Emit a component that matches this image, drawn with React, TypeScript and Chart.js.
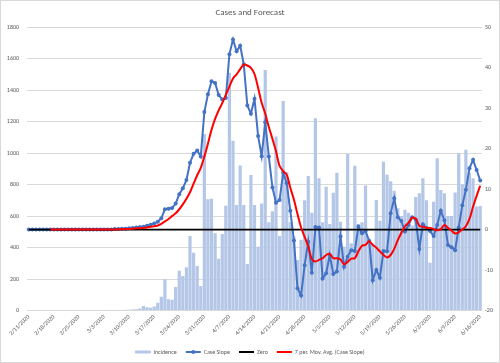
import React, { useEffect, useRef } from "react";
import { Chart, registerables } from "chart.js";

Chart.register(...registerables);

// ---- Data -------------------------------------------------------------
const FIRST_DAY = { year: 2020, month: 2, day: 11 }; // 2/11/2020
const DAY_COUNT = 127; // 2/11/2020 .. 6/16/2020
const TICK_EVERY = 7;

const categories: string[] = [];
for (let i = 0; i < DAY_COUNT; i++) {
  const d = new Date(FIRST_DAY.year, FIRST_DAY.month - 1, FIRST_DAY.day + i);
  categories.push(`${d.getMonth() + 1}/${d.getDate()}/${d.getFullYear()}`);
}

const incidence: number[] = [
  0, 0, 0, 0, 0, 0, 0, 0, 0, 0,
  0, 0, 0, 0, 0, 0, 0, 0, 0, 0,
  3, 0, 1, 1, 3, 1, 2, 5, 4, 6,
  8, 12, 28, 20, 18, 25, 50, 88, 198, 71,
  68, 150, 253, 219, 274, 473, 367, 282, 155, 1120,
  706, 710, 490, 329, 486, 665, 1510, 1078, 670, 920,
  670, 295, 860, 670, 405, 680, 1527, 560, 630, 1104,
  473, 1330, 880, 560, 470, 320, 450, 700, 854, 620,
  1220, 839, 560, 786, 549, 748, 875, 564, 405, 994,
  427, 919, 549, 560, 793, 427, 427, 702, 570, 945,
  862, 820, 760, 650, 600, 640, 620, 540, 720, 745,
  840, 700, 303, 690, 966, 765, 745, 600, 600, 750,
  998, 800, 1020, 875, 840, 660, 663,
];

const caseSlope: number[] = [
  0, 0, 0, 0, 0, 0, 0, 0, 0, 0,
  0, 0, 0, 0, 0, 0, 0, 0, 0, 0,
  0, 0, 0, 0, 0.1, 0.1, 0.2, 0.2, 0.3, 0.4,
  0.5, 0.6, 0.7, 0.9, 1.2, 1.5, 1.9, 2.8, 5.0, 5.1,
  5.3, 6.4, 8.7, 10.2, 12.2, 16.5, 18.7, 19.5, 18.0, 29.0,
  33.4, 36.6, 36.2, 33.2, 32.1, 32.5, 43.3, 46.9, 44.0, 45.4,
  40.8, 30.6, 28.6, 32.3, 23.1, 18.1, 26.5, 18.0, 10.4, 6.6,
  7.3, 14.0, 11.4, 4.6, -2.7, -14.5, -16.3, -8.8, -3.0, -10.7,
  0.6, 0.5, -12.1, -10.8, -6.3, -11.0, -10.4, -1.7, -9.2, -6.7,
  -5.1, -5.3, 0.7, -0.9, -0.4, -2.8, -12.5, -10.0, -11.9, -5.3,
  -5.4, 4.0, 7.7, 3.0, 2.1, -0.5, 1.1, 3.0, 2.5, -4.8,
  1.3, 0.4, -0.4, -1.6, 1.1, 4.6, 2.3, -3.8, -4.4, -5.1,
  0.5, 6.0, 9.8, 15.1, 17.2, 14.7, 12.1,
];

const movingAvg: (number | null)[] = [
  null, null, null, null, null, null, 0, 0, 0, 0,
  0, 0, 0, 0, 0, 0, 0, 0, 0, 0,
  0, 0, 0, 0, 0, 0, 0.1, 0.1, 0.1, 0.2,
  0.3, 0.3, 0.4, 0.5, 0.7, 0.8, 1.0, 1.4, 2.0, 2.6,
  3.3, 4.0, 5.0, 6.2, 7.6, 9.2, 11.3, 13.4, 15.2, 18.0,
  21.2, 24.6, 27.3, 29.4, 31.2, 33.3, 35.3, 37.3, 38.3, 39.6,
  40.7, 40.5, 39.9, 38.4, 35.0, 31.3, 28.6, 25.3, 22.4, 19.3,
  15.7, 14.4, 13.5, 10.3, 7.4, 3.8, 0.5, -1.8, -4.2, -7.3,
  -7.9, -7.5, -7.1, -6.3, -6.0, -7.1, -7.1, -7.4, -8.6, -8.0,
  -7.2, -7.1, -5.4, -4.0, -3.8, -2.9, -3.8, -4.5, -5.4, -6.3,
  -6.9, -6.3, -4.8, -2.6, -0.8, 0.8, 1.7, 2.9, 2.7, 0.9,
  0.7, 0.4, 0.4, 0.1, -0.2, 0.1, 1.1, 0.4, -0.3, -1.0,
  -0.7, 0.0, 0.8, 2.6, 5.6, 8.3, 10.8,
];

const zeroLine: number[] = categories.map(() => 0);

const LEFT_TICKS = { min: 0, max: 1800, step: 200 };
const RIGHT_TICKS = { min: -20, max: 50, step: 10 };

// ---- Styles -----------------------------------------------------------
const FONT = "Carlito, Calibri, 'Liberation Sans', Arial, sans-serif";
const TEXT = "#595959";
const GRID = "#D9D9D9";
const BAR = "#B4C7E7";
const BLUE = "#4472C4";
const RED = "#FF0000";
const BLACK = "#000000";

const legendMarker = {
  id: "legendMarker",
  afterDraw(chart: any) {
    const legend = chart.legend;
    if (!legend || !legend.legendHitBoxes || !legend.legendItems) return;
    legend.legendItems.forEach((item: any, i: number) => {
      if (item.datasetIndex !== 1) return;
      const hb = legend.legendHitBoxes[i];
      if (!hb) return;
      const ctx = chart.ctx;
      const boxW = legend.options.labels.boxWidth;
      const fs = legend.options.labels.font.size;
      ctx.save();
      ctx.fillStyle = BLUE;
      ctx.beginPath();
      ctx.arc(hb.left + boxW / 2, hb.top + fs / 2, 2, 0, Math.PI * 2);
      ctx.fill();
      ctx.restore();
    });
  },
};

export default function App() {
  const ref = useRef<HTMLCanvasElement | null>(null);

  useEffect(() => {
    if (!ref.current) return;
    const chart = new Chart(ref.current, {
      type: "bar",
      data: {
        labels: categories,
        datasets: [
          {
            type: "bar",
            label: "Incidence",
            data: incidence,
            backgroundColor: BAR,
            borderWidth: 0,
            yAxisID: "y",
            order: 4,
            categoryPercentage: 1,
            barPercentage: 0.9,
          } as any,
          {
            type: "line",
            label: "Case Slope",
            data: caseSlope,
            borderColor: BLUE,
            backgroundColor: BLUE,
            borderWidth: 2,
            pointRadius: 2,
            pointBorderWidth: 0,
            pointBackgroundColor: BLUE,
            tension: 0,
            yAxisID: "y1",
            order: 3,
          } as any,
          {
            type: "line",
            label: "Zero",
            data: zeroLine,
            borderColor: BLACK,
            backgroundColor: BLACK,
            borderWidth: 1.75,
            pointRadius: 0,
            yAxisID: "y1",
            order: 2,
          } as any,
          {
            type: "line",
            label: "7 per. Mov. Avg. (Case Slope)",
            data: movingAvg,
            borderColor: RED,
            backgroundColor: RED,
            borderWidth: 2,
            pointRadius: 0,
            tension: 0.3,
            yAxisID: "y1",
            order: 1,
          } as any,
        ],
      },
      options: {
        responsive: true,
        maintainAspectRatio: false,
        animation: false,
        layout: { padding: { top: 0, left: 0, right: 0, bottom: -3 } },
        plugins: {
          title: {
            display: true,
            text: "Cases and Forecast",
            color: TEXT,
            font: { family: FONT, size: 9, weight: "normal" },
            padding: { top: 6.6, bottom: 8.6 },
          },
          legend: {
            position: "bottom",
            labels: {
              font: { family: FONT, size: 6 },
              color: TEXT,
              boxWidth: 15,
              boxHeight: 2,
              padding: 9,
              sort: (a: any, b: any) => a.datasetIndex - b.datasetIndex,
              generateLabels: (c: any) =>
                c.data.datasets.map((ds: any, i: number) => ({
                  text: ds.label,
                  fillStyle: i === 0 ? BAR : ds.borderColor,
                  strokeStyle: i === 0 ? BAR : ds.borderColor,
                  lineWidth: i === 0 ? 1 : 0,
                  hidden: false,
                  datasetIndex: i,
                  fontColor: TEXT,
                })),
            },
          },
          tooltip: { enabled: false },
        },
        scales: {
          x: {
            grid: { display: false, drawTicks: false },
            border: { display: false },
            ticks: {
              autoSkip: false,
              maxRotation: 45,
              minRotation: 45,
              padding: 3,
              color: TEXT,
              font: { family: FONT, size: 6 },
              callback: (_v: any, i: number) => (i % TICK_EVERY === 0 ? categories[i] : ""),
            },
            afterFit: (s: any) => {
              s.height = 29.5;
            },
          },
          y: {
            position: "left",
            min: LEFT_TICKS.min,
            max: LEFT_TICKS.max,
            ticks: {
              stepSize: LEFT_TICKS.step,
              padding: 8,
              color: TEXT,
              font: { family: FONT, size: 6 },
              callback: (v: any) => String(v),
            },
            grid: { color: GRID, lineWidth: 1, drawTicks: false },
            border: { display: false },
            afterFit: (s: any) => {
              s.width = 26;
            },
          },
          y1: {
            position: "right",
            min: RIGHT_TICKS.min,
            max: RIGHT_TICKS.max,
            ticks: {
              stepSize: RIGHT_TICKS.step,
              padding: 3,
              color: TEXT,
              font: { family: FONT, size: 6 },
              callback: (v: any) => String(v),
            },
            grid: { display: false, drawTicks: false },
            border: { display: false },
            afterFit: (s: any) => {
              s.width = 17;
            },
          },
        },
      } as any,
      plugins: [legendMarker],
    });
    return () => chart.destroy();
  }, []);

  return (
    <div
      style={{
        position: "fixed",
        left: 0,
        top: 0,
        width: 500,
        height: 363,
        boxSizing: "border-box",
        border: "1px solid #D9D9D9",
        background: "#FFFFFF",
      }}
    >
      <canvas ref={ref} />
    </div>
  );
}
